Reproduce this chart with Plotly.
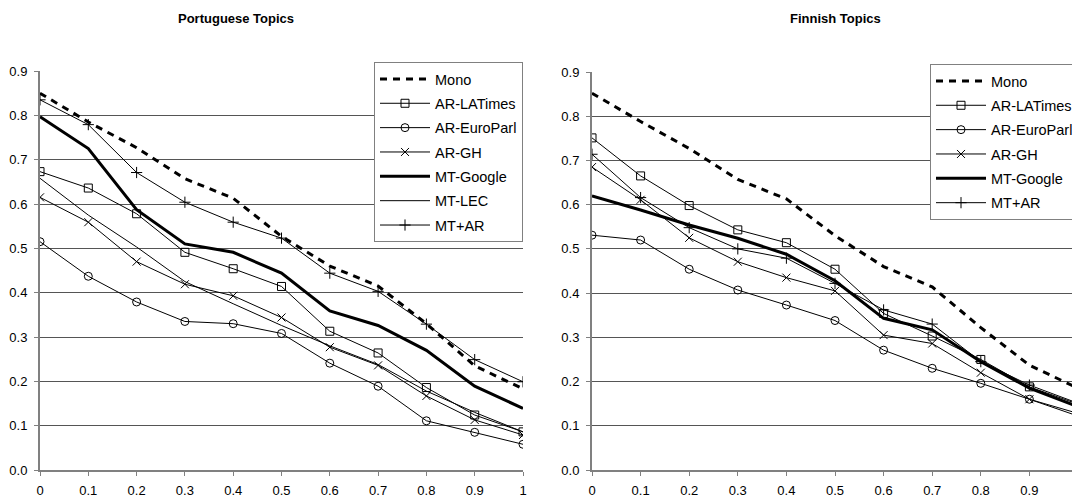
import plotly.graph_objects as go

x_vals = [0, 0.1, 0.2, 0.3, 0.4, 0.5, 0.6, 0.7, 0.8, 0.9, 1]
x_ticks = ["0", "0.1", "0.2", "0.3", "0.4", "0.5", "0.6", "0.7", "0.8", "0.9", "1"]
y_ticks = [0.0, 0.1, 0.2, 0.3, 0.4, 0.5, 0.6, 0.7, 0.8, 0.9]

# Portuguese topics
pt_mono = [0.85, 0.785, 0.727, 0.657, 0.613, 0.527, 0.46, 0.415, 0.33, 0.235, 0.183]
pt_latimes = [0.673, 0.636, 0.578, 0.491, 0.454, 0.414, 0.313, 0.264, 0.186, 0.124, 0.086]
pt_europarl = [0.515, 0.437, 0.379, 0.335, 0.330, 0.308, 0.241, 0.189, 0.111, 0.085, 0.058]
pt_gh = [0.615, 0.559, 0.470, 0.419, 0.393, 0.344, 0.277, 0.236, 0.167, 0.113, 0.079]
pt_google = [0.797, 0.725, 0.587, 0.51, 0.491, 0.444, 0.359, 0.326, 0.27, 0.189, 0.139]
pt_lec = [0.658, 0.575, 0.503, 0.425, 0.375, 0.326, 0.28, 0.238, 0.178, 0.13, 0.086]
pt_mtar = [0.835, 0.779, 0.671, 0.604, 0.559, 0.523, 0.444, 0.403, 0.329, 0.249, 0.199]

# Finnish topics
fi_mono = [0.852, 0.788, 0.727, 0.657, 0.613, 0.53, 0.46, 0.414, 0.322, 0.237, 0.185]
fi_latimes = [0.751, 0.665, 0.598, 0.543, 0.514, 0.454, 0.354, 0.303, 0.25, 0.188, 0.149]
fi_europarl = [0.531, 0.520, 0.454, 0.407, 0.373, 0.338, 0.271, 0.23, 0.196, 0.16, 0.122]
fi_gh = [0.685, 0.611, 0.525, 0.471, 0.435, 0.405, 0.305, 0.286, 0.22, 0.16, 0.128]
fi_google = [0.620, 0.588, 0.554, 0.524, 0.488, 0.428, 0.343, 0.317, 0.245, 0.185, 0.143]
fi_mtar = [0.714, 0.616, 0.548, 0.500, 0.479, 0.422, 0.362, 0.330, 0.245, 0.192, 0.151]

FONT = "Liberation Sans, Arial, sans-serif"

fig = go.Figure()


def add(y, name, xa, ya, leg, style):
    kw = dict(x=x_vals, y=y, name=name, xaxis=xa, yaxis=ya, legend=leg,
              legendgroup=leg + name, showlegend=True)
    if style == "mono":
        kw.update(mode="lines", line=dict(color="black", width=3, dash="7px,6px"))
    elif style == "thick":
        kw.update(mode="lines", line=dict(color="black", width=3))
    elif style == "thin":
        kw.update(mode="lines", line=dict(color="black", width=1))
    else:
        kw.update(mode="lines+markers", line=dict(color="black", width=1),
                  marker=dict(symbol=style, size=8, color="black",
                              line=dict(color="black", width=1)))
    fig.add_trace(go.Scatter(**kw))


add(pt_mono, "Mono", "x", "y", "legend", "mono")
add(pt_latimes, "AR-LATimes", "x", "y", "legend", "square-open")
add(pt_europarl, "AR-EuroParl", "x", "y", "legend", "circle-open")
add(pt_gh, "AR-GH", "x", "y", "legend", "x-thin-open")
add(pt_google, "MT-Google", "x", "y", "legend", "thick")
add(pt_lec, "MT-LEC", "x", "y", "legend", "thin")
add(pt_mtar, "MT+AR", "x", "y", "legend", "cross-thin-open")

add(fi_mono, "Mono", "x2", "y2", "legend2", "mono")
add(fi_latimes, "AR-LATimes", "x2", "y2", "legend2", "square-open")
add(fi_europarl, "AR-EuroParl", "x2", "y2", "legend2", "circle-open")
add(fi_gh, "AR-GH", "x2", "y2", "legend2", "x-thin-open")
add(fi_google, "MT-Google", "x2", "y2", "legend2", "thick")
add(fi_mtar, "MT+AR", "x2", "y2", "legend2", "cross-thin-open")

# The page body has an 8px margin, so the figure is 8px smaller and all
# target pixel positions are shifted by 8.
OFF = 8
W, H = 1080 - OFF, 500 - OFF


def px(xp):
    return (xp - OFF) / W


def py(yp):
    return (H - (yp - OFF)) / H


xaxis_common = dict(range=[0, 1], tickvals=x_vals, ticktext=x_ticks, showgrid=False,
                    zeroline=False, showline=True, linecolor="#808080", linewidth=2,
                    ticks="outside", ticklen=4, tickcolor="#808080", automargin=False,
                    ticklabelstandoff=3, ticklabeloverflow="allow",
                    tickfont=dict(family=FONT, size=13, color="black"), fixedrange=True)
yaxis_common = dict(range=[0, 0.9], tickvals=y_ticks, tickformat=".1f", showgrid=True,
                    gridcolor="#555555", gridwidth=1, zeroline=False, showline=True,
                    linecolor="#808080", linewidth=2, ticks="outside", ticklen=4,
                    tickcolor="#808080", automargin=False, ticklabelstandoff=4,
                    tickfont=dict(family=FONT, size=13, color="black"), fixedrange=True)

legend_common = dict(bgcolor="white", bordercolor="#808080", borderwidth=1,
                     font=dict(family=FONT, size=14.5, color="black"),
                     traceorder="grouped", tracegroupgap=2.5, itemwidth=50,
                     xref="container", yref="container")

fig.update_layout(
    width=W, height=H,
    margin=dict(l=0, r=0, t=0, b=0, autoexpand=False),
    paper_bgcolor="white", plot_bgcolor="white",
    font=dict(family=FONT, color="black"),
    xaxis=dict(domain=[px(40), px(523)], anchor="y", **xaxis_common),
    yaxis=dict(domain=[py(470), py(71)], anchor="x", **yaxis_common),
    xaxis2=dict(domain=[px(592), min(px(1078), 1.0)], anchor="y2", **xaxis_common),
    yaxis2=dict(domain=[py(470), py(72)], anchor="x2", **yaxis_common),
    legend=dict(x=px(523), y=py(62), xanchor="right", yanchor="top", **legend_common),
    legend2=dict(x=px(930), y=py(64), xanchor="left", yanchor="top", **legend_common),
    annotations=[
        dict(text="<b>Portuguese Topics</b>", x=px(236), y=py(18), xref="paper",
             yref="paper", xanchor="center", yanchor="middle", showarrow=False,
             font=dict(family=FONT, size=13, color="black")),
        dict(text="<b>Finnish Topics</b>", x=px(835), y=py(18), xref="paper",
             yref="paper", xanchor="center", yanchor="middle", showarrow=False,
             font=dict(family=FONT, size=13, color="black")),
    ],
)

fig.write_html("out.html")
